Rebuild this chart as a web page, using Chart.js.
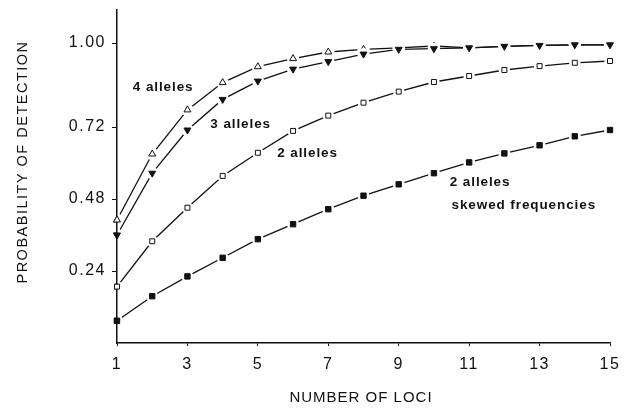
<!DOCTYPE html>
<html>
<head>
<meta charset="utf-8">
<script src="https://cdn.jsdelivr.net/npm/chart.js@4.4.0/dist/chart.umd.min.js"></script>
<style>
  html, body { margin: 0; padding: 0; background: #fff; }
  #box { width: 632px; height: 411px; }
</style>
</head>
<body>
<div id="box"><canvas id="grafica"></canvas></div>
<script>
const loci = [1, 2, 3, 4, 5, 6, 7, 8, 9, 10, 11, 12, 13, 14, 15];
const alleles4 = [0.41, 0.63, 0.777, 0.868, 0.921, 0.948, 0.97, 0.979, 0.984, 0.99, 0.984, 0.989, 0.992, 0.994, 0.994];
const alleles3 = [0.36, 0.566, 0.71, 0.812, 0.873, 0.913, 0.938, 0.963, 0.979, 0.981, 0.984, 0.989, 0.992, 0.994, 0.994];
const alleles2 = [0.188, 0.339, 0.451, 0.557, 0.634, 0.707, 0.758, 0.801, 0.838, 0.87, 0.89, 0.91, 0.923, 0.934, 0.94];
const skewed2 = [0.074, 0.156, 0.222, 0.284, 0.346, 0.396, 0.446, 0.491, 0.529, 0.566, 0.602, 0.632, 0.659, 0.689, 0.71];
const xTicks = [1, 3, 5, 7, 9, 11, 13, 15];
const yTicks = [0.24, 0.48, 0.72, 1.00];

const ink = '#111';
const font = '"Liberation Sans", Arial, sans-serif';

function pts(ys) {
  return loci.map((x, i) => ({ x: x, y: ys[i] }));
}

// labels written on the plot, placed in data units
const notes = [
  { text: '4 alleles', x: 1.45, y: 0.852 },
  { text: '3 alleles', x: 3.65, y: 0.73 },
  { text: '2 alleles', x: 5.55, y: 0.633 },
  { text: '2 alleles', x: 10.45, y: 0.536 },
  { text: 'skewed frequencies', x: 10.5, y: 0.46 }
];

const spacing = {
  id: 'spacing',
  beforeDraw(chart) { chart.ctx.letterSpacing = '1.5px'; }
};

// white halo round each marker so the line stops short of it
const halo = {
  id: 'halo',
  afterDatasetsDraw(chart) {
    const ctx = chart.ctx;
    const a = chart.chartArea;
    const metas = chart.getSortedVisibleDatasetMetas().slice().reverse();
    metas.forEach(meta => {
      meta.data.forEach(el => {
        const r = el.options.radius;
        if (!r) return;
        ctx.save();
        ctx.beginPath();
        ctx.rect(a.left + 1, 0, chart.width, a.bottom - 1);
        ctx.clip();
        ctx.fillStyle = '#fff';
        ctx.beginPath();
        ctx.arc(el.x, el.y, r + 2.2, 0, Math.PI * 2);
        ctx.fill();
        ctx.restore();
        el.draw(ctx);
      });
    });
  }
};

const textPlugin = {
  id: 'texts',
  afterDraw(chart) {
    const ctx = chart.ctx;
    const xs = chart.scales.x, ys = chart.scales.y;
    ctx.save();
    ctx.fillStyle = ink;
    ctx.letterSpacing = '0.9px';
    ctx.font = 'bold 13.5px ' + font;
    ctx.textAlign = 'left';
    ctx.textBaseline = 'middle';
    notes.forEach(n => ctx.fillText(n.text, xs.getPixelForValue(n.x), ys.getPixelForValue(n.y)));
    ctx.letterSpacing = '1px';
    ctx.font = '15px ' + font;
    ctx.textAlign = 'center';
    ctx.fillText('NUMBER OF LOCI', 361, 398);
    ctx.letterSpacing = '1.5px';
    ctx.font = '14.5px ' + font;
    ctx.translate(23, 162);
    ctx.rotate(-Math.PI / 2);
    ctx.fillText('PROBABILITY OF DETECTION', 0, 0);
    ctx.restore();
  }
};

const base = {
  borderColor: ink,
  borderWidth: 1.3,
  pointBorderColor: ink,
  pointBorderWidth: 1,
  tension: 0,
  clip: false
};

const data = {
  datasets: [
    Object.assign({}, base, { label: '4 alleles', order: 1, data: pts(alleles4), pointStyle: 'triangle', pointRadius: c => (c.parsed && c.parsed.x > 10 ? 0 : 4), pointBackgroundColor: '#fff' }),
    Object.assign({}, base, { label: '3 alleles', order: 0, data: pts(alleles3), pointStyle: 'triangle', pointRotation: 180, pointRadius: 4, pointBackgroundColor: ink }),
    Object.assign({}, base, { label: '2 alleles', order: 2, data: pts(alleles2), pointStyle: 'rect', pointRadius: 3.5, pointBackgroundColor: '#fff' }),
    Object.assign({}, base, { label: '2 alleles skewed', order: 3, data: pts(skewed2), pointStyle: 'rect', pointRadius: 3.8, pointBackgroundColor: ink })
  ]
};

const config = {
  type: 'line',
  data: data,
  plugins: [spacing, halo, textPlugin],
  options: {
    responsive: true,
    maintainAspectRatio: false,
    animation: false,
    layout: { padding: { top: 10, right: 22, left: 0, bottom: 0 } },
    plugins: { legend: { display: false }, tooltip: { enabled: false } },
    scales: {
      x: {
        type: 'linear',
        min: 1,
        max: 15,
        afterBuildTicks: s => { s.ticks = xTicks.map(v => ({ value: v })); },
        afterFit: s => { s.height = 411 - 343; },
        grid: { drawOnChartArea: false, drawTicks: true, tickLength: 3, color: ink },
        border: { color: ink, width: 1.5 },
        ticks: { color: ink, font: { family: font, size: 16 }, padding: 9, maxRotation: 0 }
      },
      y: {
        type: 'linear',
        min: 0,
        max: 1.11,
        afterBuildTicks: s => { s.ticks = yTicks.map(v => ({ value: v })); },
        afterFit: s => { s.width = 117; s.paddingTop = 0; s.paddingBottom = 0; },
        grid: { drawOnChartArea: false, drawTicks: true, tickLength: 5, color: ink },
        border: { color: ink, width: 1.5 },
        ticks: { color: ink, font: { family: font, size: 16 }, padding: 6, callback: v => v.toFixed(2) }
      }
    }
  }
};

new Chart(document.getElementById('grafica'), config);
</script>
</body>
</html>
